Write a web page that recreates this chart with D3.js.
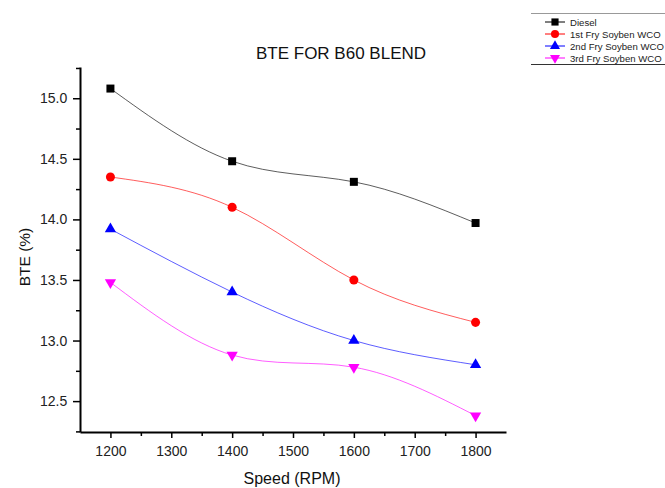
<!DOCTYPE html>
<html><head><meta charset="utf-8">
<script src="https://cdn.jsdelivr.net/npm/d3@7"></script>
<style>body{margin:0;background:#fff}text{font-family:"Liberation Sans",Arial,sans-serif}</style>
</head><body><svg id="c" width="665" height="488"></svg>
<script>
const speeds = [1200, 1400, 1600, 1800];
const seriesNames = ["Diesel", "1st Fry Soyben WCO", "2nd Fry Soyben WCO", "3rd Fry Soyben WCO"];
const diesel = [15.08, 14.48, 14.31, 13.97];
const fry1 = [14.35, 14.10, 13.50, 13.15];
const fry2 = [13.92, 13.40, 13.00, 12.80];
const fry3 = [13.48, 12.88, 12.78, 12.38];
const xTicks = [1200, 1300, 1400, 1500, 1600, 1700, 1800];
const yTicks = [12.5, 13.0, 13.5, 14.0, 14.5, 15.0];
const colors = ["#000000", "#ff0000", "#0000ff", "#ff00ff"];
const symbols = ["square", "circle", "triangle", "triangleDown"];
const allSeries = [diesel, fry1, fry2, fry3];

const svg = d3.select("#c");
const L = 80, R = 506, T = 67, B = 432;
const x = d3.scaleLinear().domain([1150, 1850]).range([L, R]);
const y = d3.scaleLinear().domain([12.245, 15.258]).range([B, T]);

const xAxis = svg.append("g").attr("transform", `translate(0,${B})`)
  .call(d3.axisBottom(x).tickValues(xTicks).tickFormat(d3.format("d")).tickSize(6).tickSizeOuter(0));
const yAxis = svg.append("g").attr("transform", `translate(${L},0)`)
  .call(d3.axisLeft(y).tickValues(yTicks).tickFormat(d3.format(".1f")).tickSize(7).tickSizeOuter(0));
svg.append("g").attr("transform", `translate(0,${B})`)
  .call(d3.axisBottom(x).tickValues(d3.range(1250, 1850, 100)).tickFormat("").tickSize(4).tickSizeOuter(0))
  .select(".domain").remove();
svg.append("g").attr("transform", `translate(${L},0)`)
  .call(d3.axisLeft(y).tickValues([12.25,12.75,13.25,13.75,14.25,14.75,15.25]).tickFormat("").tickSize(4).tickSizeOuter(0))
  .select(".domain").remove();
svg.selectAll(".domain").attr("stroke", "#000").attr("stroke-width", 2);
svg.selectAll(".tick line").attr("stroke", "#000").attr("stroke-width", 1.5);
xAxis.selectAll(".tick text").attr("font-size", 14).attr("fill", "#222").attr("dy", "1.1em");
yAxis.selectAll(".tick text").attr("font-size", 14).attr("fill", "#222").attr("dx", "-0.2em");

const line = d3.line().x((d, i) => x(speeds[i])).y(d => y(d)).curve(d3.curveNatural);
const symMap = {square: d3.symbolSquare, circle: d3.symbolCircle, triangle: d3.symbolTriangle, triangleDown: d3.symbolTriangle};
const symSize = {square: 64, circle: 64, triangle: 55, triangleDown: 55};
allSeries.forEach((s, k) => {
  svg.append("path").datum(s).attr("d", line).attr("fill", "none")
    .attr("stroke", colors[k]).attr("stroke-width", 0.8).attr("opacity", 0.8);
  svg.append("g").selectAll("path").data(s).join("path")
    .attr("d", d3.symbol().type(symMap[symbols[k]]).size(symSize[symbols[k]]))
    .attr("transform", (d, i) => `translate(${x(speeds[i])},${y(d)})${symbols[k] === "triangleDown" ? " rotate(180)" : ""}`)
    .attr("fill", colors[k]);
});

svg.append("text").attr("x", 341).attr("y", 59).attr("text-anchor", "middle")
  .attr("font-size", 17).attr("fill", "#111").text("BTE FOR B60 BLEND");
svg.append("text").attr("x", 292).attr("y", 484).attr("text-anchor", "middle")
  .attr("font-size", 16).attr("fill", "#111").text("Speed (RPM)");
svg.append("text").attr("transform", "translate(30,257) rotate(-90)").attr("text-anchor", "middle")
  .attr("font-size", 15.5).attr("fill", "#111").text("BTE (%)");

const lg = svg.append("g");
lg.append("line").attr("x1", 531).attr("x2", 665).attr("y1", 13.5).attr("y2", 13.5).attr("stroke", "#999").attr("stroke-width", 1);
lg.append("line").attr("x1", 531).attr("x2", 665).attr("y1", 64.5).attr("y2", 64.5).attr("stroke", "#333").attr("stroke-width", 1.2);
seriesNames.forEach((n, k) => {
  const yy = 22 + k * 12;
  lg.append("line").attr("x1", 545).attr("x2", 565).attr("y1", yy).attr("y2", yy).attr("stroke", colors[k]).attr("stroke-width", 1);
  lg.append("path").attr("d", d3.symbol().type(symMap[symbols[k]]).size(symSize[symbols[k]] * 0.8))
    .attr("transform", `translate(555,${yy})${symbols[k] === "triangleDown" ? " rotate(180)" : ""}`).attr("fill", colors[k]);
  lg.append("text").attr("x", 570).attr("y", yy + 3.5).attr("font-size", 9.6).attr("fill", "#222").text(n);
});
</script></body></html>
